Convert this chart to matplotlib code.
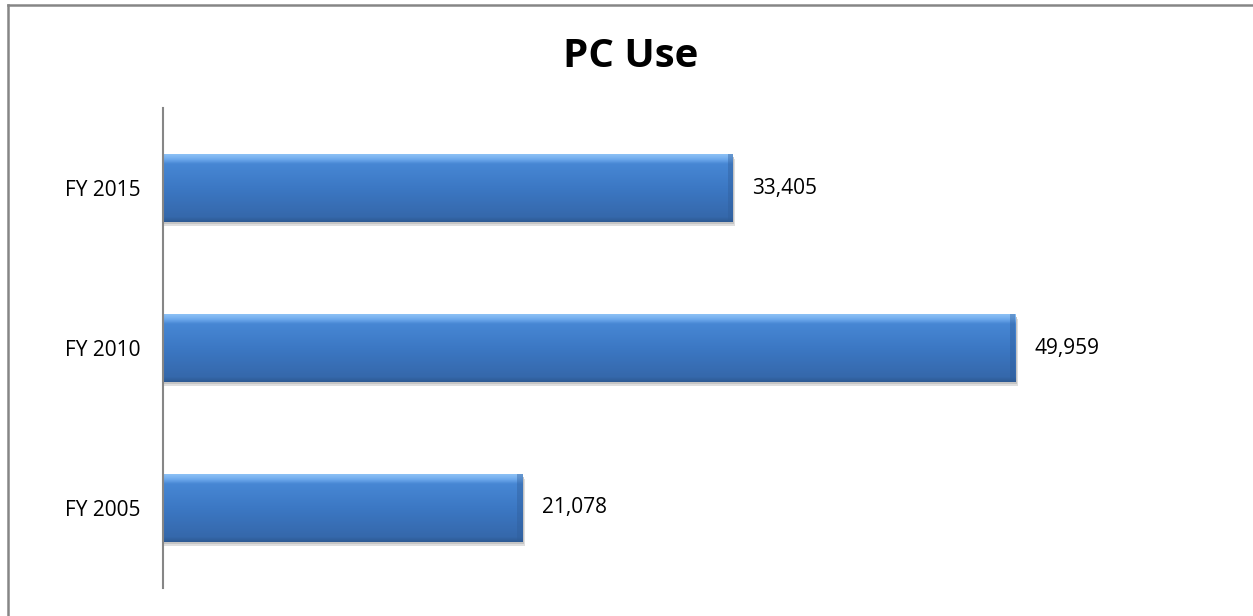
import matplotlib.pyplot as plt
import numpy as np
from matplotlib.colors import LinearSegmentedColormap
from matplotlib.patches import Rectangle
from matplotlib.lines import Line2D

categories = ['FY 2005', 'FY 2010', 'FY 2015']
values = [21078, 49959, 33405]
labels = ['21,078', '49,959', '33,405']

plt.rcParams['font.family'] = ['Open Sans', 'DejaVu Sans']

fig = plt.figure(figsize=(12.53, 6.16), dpi=100)
ax = fig.add_axes([0.130, 0.0455, 0.817, 0.779])

# bevelled blue look: vertical gradient from light top to darker bottom
cmap = LinearSegmentedColormap.from_list('bevel', [
    (0.0, '#2d5a94'), (0.07, '#3568ab'), (0.5, '#3c78c4'),
    (0.86, '#4787d4'), (0.93, '#6eaaec'), (1.0, '#8cc0f5')])
grad = np.linspace(0, 1, 100).reshape(-1, 1)

h = 0.42
bars = ax.barh(range(len(values)), values, height=h, color='#3c78c4', zorder=2)
for b in bars:
    x0, y0, w, hh = b.get_x(), b.get_y(), b.get_width(), b.get_height()
    # shadow
    ax.add_patch(Rectangle((x0, y0 - 0.03), w + 150, hh, color='#dedede', zorder=1, lw=0))
    ax.add_patch(Rectangle((x0, y0 - 0.015), w + 80, hh, color='#c4c4c4', zorder=1, lw=0))
    im = ax.imshow(grad, extent=[x0, x0 + w, y0, y0 + hh], origin='lower',
                   cmap=cmap, aspect='auto', zorder=3)
    im.set_clip_path(b)
    # darker right end bevel
    ax.add_patch(Rectangle((x0 + w - 300, y0), 300, hh, color='#2f5d99', alpha=0.4, zorder=4, lw=0))

for i, v in enumerate(values):
    ax.annotate(labels[i], (v, i), xytext=(14, 0), textcoords='offset points',
                va='center', ha='left', fontsize=15)

ax.set_xlim(0, 60000)
ax.set_ylim(-0.5, 2.5)
ax.set_yticks(range(len(categories)))
ax.set_yticklabels(categories, fontsize=15)
ax.tick_params(axis='y', length=0, pad=16)
ax.set_xticks([])
for s in ['top', 'right', 'bottom']:
    ax.spines[s].set_visible(False)
ax.spines['left'].set_color('#868686')
ax.spines['left'].set_linewidth(1.5)
ax.spines['left'].set_zorder(5)

fig.text(0.5035, 0.908, 'PC Use', ha='center', va='center', fontsize=29, fontweight='bold')

# outer chart border (left and top visible)
bx = 7.5 / 1253
by = 1 - 5 / 616
fig.add_artist(Line2D([bx, bx], [0, by], transform=fig.transFigure, color='#868686', lw=1.8))
fig.add_artist(Line2D([bx, 1], [by, by], transform=fig.transFigure, color='#868686', lw=1.8))

fig.savefig('out.png', dpi=100)
